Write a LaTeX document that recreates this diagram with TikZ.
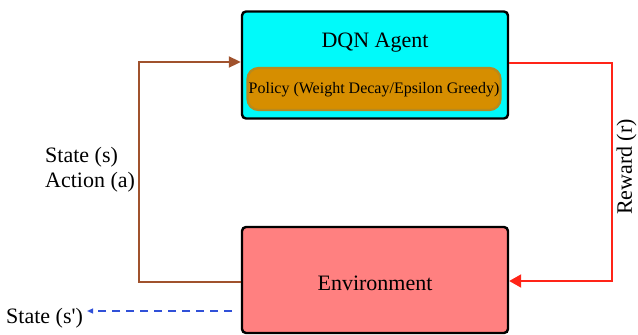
\documentclass[tikz,border=0pt]{standalone}
\usepackage{fontspec}
\setmainfont{Liberation Serif}
\usetikzlibrary{arrows.meta}
\definecolor{agentfill}{HTML}{00FAFA}
\definecolor{policyfill}{HTML}{D68E00}
\definecolor{policyedge}{HTML}{B88A1E}
\definecolor{envfill}{HTML}{FF8080}
\definecolor{linkbrown}{HTML}{A0522D}
\definecolor{linkred}{HTML}{FF2418}
\definecolor{linkblue}{HTML}{3050D8}
\tikzset{
  block/.style={draw=black, line width=2.4pt, rounded corners=4pt, inner sep=0pt},
  policybox/.style={draw=policyedge, fill=policyfill, line width=2.2pt, rounded corners=11pt, inner sep=0pt},
  bigtext/.style={font=\fontsize{22}{26}\selectfont, inner sep=0pt},
  smalltext/.style={font=\fontsize{16}{19}\selectfont, inner sep=0pt},
  link/.style={line width=2pt}
}
\begin{document}
\begin{tikzpicture}[x=1pt, y=-1pt]
  \useasboundingbox (0,0) rectangle (638,335);

  % agent block with its policy
  \node[block, fill=agentfill, minimum width=266pt, minimum height=107pt] (agent) at (375,65) {};
  \node[bigtext] (agentlabel) at (375,43) {DQN Agent};
  \node[policybox, minimum width=253pt, minimum height=42pt] (policy) at (374,89) {};
  \node[smalltext] (policylabel) at (374,90) {Policy (Weight Decay/Epsilon Greedy)};

  % environment block
  \node[block, fill=envfill, minimum width=266pt, minimum height=106pt] (env) at (375,280) {};
  \node[bigtext] (envlabel) at (375,283) {Environment};

  % state/action feedback to the agent
  \coordinate (bl) at (139,282);
  \coordinate (tl) at (139,62);
  \draw[link, linkbrown, -{Triangle[length=12pt,width=11pt]}]
    (env.west |- bl) -- (bl) -- (tl) -- (agent.west |- tl);
  \node[bigtext, align=left, anchor=west] (sa) at (45,170) {State (s)\\[-1pt]Action (a)};

  % reward back to the environment
  \coordinate (tr) at (612,63);
  \coordinate (br) at (612,281);
  \draw[link, linkred, -{Triangle[length=12pt,width=13pt]}]
    (agent.east |- tr) -- (tr) -- (br) -- (env.east |- br);
  \node[bigtext, rotate=90] (reward) at (626.5,167) {Reward (r)};

  % next state output
  \node[bigtext, anchor=west] (next) at (6,318) {State (s\textquotesingle)};
  \coordinate (ns) at (232,311);
  \draw[line width=1.2pt, linkblue, dash pattern=on 8pt off 6pt, -{Triangle[length=6pt,width=5pt]}]
    (ns) -- ([xshift=4pt]next.north east |- ns);
\end{tikzpicture}
\end{document}
